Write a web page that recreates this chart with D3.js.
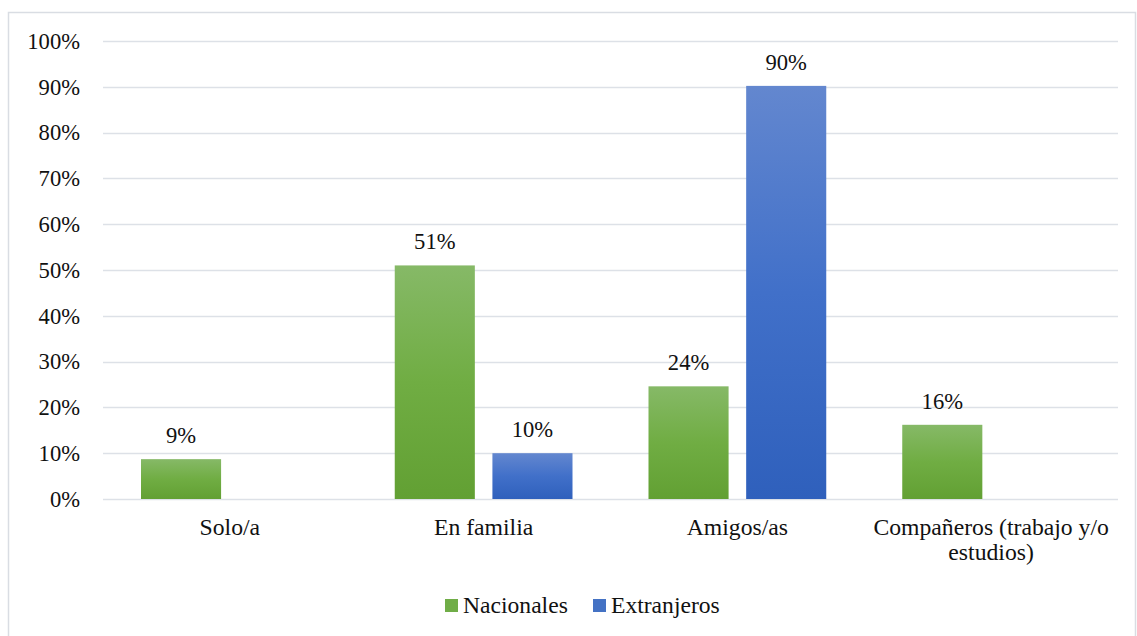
<!DOCTYPE html>
<html>
<head>
<meta charset="utf-8">
<script src="https://cdn.jsdelivr.net/npm/d3@7"></script>
<style>
  body { margin: 0; background: #fff; }
</style>
</head>
<body>
<div id="chart"></div>
<script>
var categories = ["Solo/a", "En familia", "Amigos/as", "Compañeros (trabajo y/o estudios)"];
var categoryLines = [["Solo/a"], ["En familia"], ["Amigos/as"], ["Compañeros (trabajo y/o", "estudios)"]];
var seriesNames = ["Nacionales", "Extranjeros"];
var nacionales = [0.087, 0.51, 0.246, 0.162];
var extranjeros = [0, 0.10, 0.902, 0];
var nacionalesLabels = ["9%", "51%", "24%", "16%"];
var extranjerosLabels = ["", "10%", "90%", ""];
var yTicks = [0, 0.1, 0.2, 0.3, 0.4, 0.5, 0.6, 0.7, 0.8, 0.9, 1];

var W = 1137, H = 636;
var margin = {top: 41, right: 19, bottom: 137, left: 103};
var width = W - margin.left - margin.right,
    height = H - margin.top - margin.bottom;
var FONT = '"Liberation Serif", "Times New Roman", serif';

var svg = d3.select("#chart").append("svg")
    .attr("width", W).attr("height", H)
    .attr("font-family", FONT);

// chart border
svg.append("rect")
    .attr("x", 8.5).attr("y", 12.5)
    .attr("width", W - 10).attr("height", H)
    .attr("fill", "none").attr("stroke", "#d9dde3").attr("stroke-width", 1.5);

var defs = svg.append("defs");
var gradG = defs.append("linearGradient").attr("id", "gG").attr("x1", 0).attr("y1", 0).attr("x2", 0).attr("y2", 1);
gradG.append("stop").attr("offset", "0%").attr("stop-color", "#86b967");
gradG.append("stop").attr("offset", "50%").attr("stop-color", "#70ad43");
gradG.append("stop").attr("offset", "100%").attr("stop-color", "#62a033");
var gradB = defs.append("linearGradient").attr("id", "gB").attr("x1", 0).attr("y1", 0).attr("x2", 0).attr("y2", 1);
gradB.append("stop").attr("offset", "0%").attr("stop-color", "#6387cf");
gradB.append("stop").attr("offset", "50%").attr("stop-color", "#4170c9");
gradB.append("stop").attr("offset", "100%").attr("stop-color", "#2f60bc");

var g = svg.append("g")
    .attr("transform", "translate(" + margin.left + "," + margin.top + ")");

var x0 = d3.scaleBand().domain(categories).range([0, width]).paddingInner(0).paddingOuter(0);
var x1 = d3.scaleBand().domain(seriesNames).range([38, x0.bandwidth() - 38]).paddingInner(0.18);
var y = d3.scaleLinear().domain([0, 1]).range([height, 0]);

// gridlines
g.selectAll(".grid").data(yTicks).enter().append("line")
    .attr("x1", 0).attr("x2", width)
    .attr("y1", function(d) { return Math.round(y(d)) + 0.5; })
    .attr("y2", function(d) { return Math.round(y(d)) + 0.5; })
    .attr("stroke", "#dde1e7").attr("stroke-width", 1.5);

// y axis labels
var yAxis = g.append("g")
    .call(d3.axisLeft(y).tickValues(yTicks).tickFormat(d3.format(".0%")).tickSize(0).tickPadding(23))
    .attr("font-family", FONT).attr("font-size", 22.6);
yAxis.select(".domain").remove();
yAxis.selectAll("text").attr("fill", "#111");

var rows = categories.map(function(c, i) {
    return {cat: c, vals: [
        {s: "Nacionales", v: nacionales[i], lab: nacionalesLabels[i], fill: "url(#gG)"},
        {s: "Extranjeros", v: extranjeros[i], lab: extranjerosLabels[i], fill: "url(#gB)"}
    ]};
});

var grp = g.selectAll(".cat").data(rows).enter().append("g")
    .attr("transform", function(d) { return "translate(" + x0(d.cat) + ",0)"; });

grp.selectAll("rect").data(function(d) { return d.vals.filter(function(v) { return v.v > 0; }); })
    .enter().append("rect")
    .attr("x", function(d) { return x1(d.s); })
    .attr("width", x1.bandwidth())
    .attr("y", function(d) { return y(d.v); })
    .attr("height", function(d) { return height - y(d.v); })
    .attr("fill", function(d) { return d.fill; });

grp.selectAll(".lab").data(function(d) { return d.vals.filter(function(v) { return v.v > 0; }); })
    .enter().append("text")
    .attr("x", function(d) { return x1(d.s) + x1.bandwidth() / 2; })
    .attr("y", function(d) { return y(d.v) - 16; })
    .attr("text-anchor", "middle")
    .attr("font-size", 22.6).attr("fill", "#111")
    .text(function(d) { return d.lab; });

// x axis category labels (wrapped)
var xl = g.append("g").attr("transform", "translate(0," + height + ")");
xl.selectAll("text").data(categories).enter().append("text")
    .attr("x", function(d) { return x0(d) + x0.bandwidth() / 2; })
    .attr("y", 36)
    .attr("text-anchor", "middle")
    .attr("font-size", 23.7).attr("fill", "#111")
    .each(function(d, i) {
        var t = d3.select(this);
        categoryLines[i].forEach(function(l, j) {
            t.append("tspan")
                .attr("x", x0(d) + x0.bandwidth() / 2)
                .attr("dy", j === 0 ? 0 : 25).text(l);
        });
    });

// legend
var legendX = [445, 593];
var lg = svg.append("g");
seriesNames.forEach(function(s, i) {
    lg.append("rect").attr("x", legendX[i]).attr("y", 599).attr("width", 13).attr("height", 13)
        .attr("fill", i === 0 ? "#70ad47" : "#4472c4");
    lg.append("text").attr("x", legendX[i] + 18).attr("y", 613)
        .attr("font-size", 23.6).attr("fill", "#111").text(s);
});
</script>
</body>
</html>
